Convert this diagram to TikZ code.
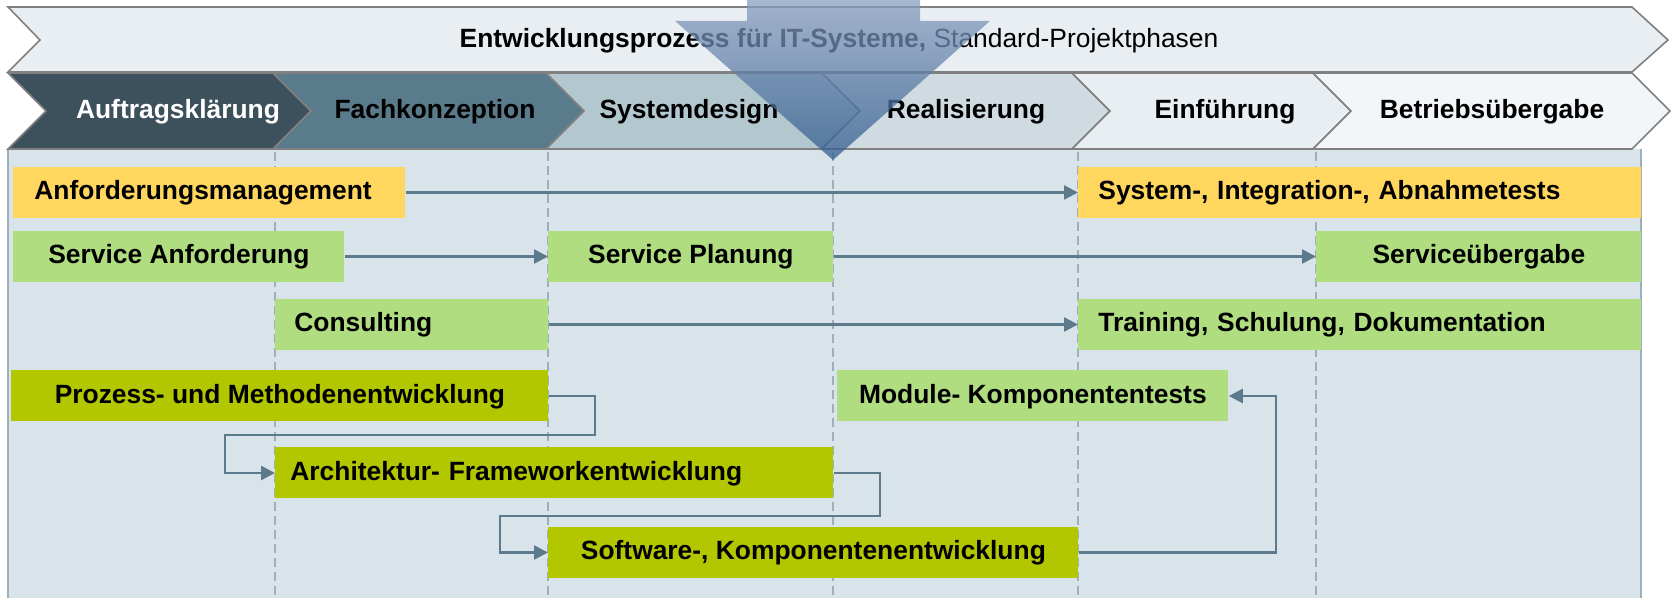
\documentclass[tikz,border=0pt]{standalone}
\usepackage{fontspec}
\setmainfont{Liberation Sans}
\usetikzlibrary{arrows.meta}
\definecolor{kopf}{HTML}{E9EEF2}
\definecolor{phaseA}{HTML}{3D515D}
\definecolor{phaseB}{HTML}{5A7B8B}
\definecolor{phaseC}{HTML}{B3C7CF}
\definecolor{phaseD}{HTML}{CFDBE1}
\definecolor{phaseE}{HTML}{E8EEF2}
\definecolor{phaseF}{HTML}{F3F6F9}
\definecolor{flaeche}{HTML}{D8E3EA}
\definecolor{gelb}{HTML}{FFD75F}
\definecolor{hellgruen}{HTML}{AFDD80}
\definecolor{oliv}{HTML}{B2C700}
\definecolor{linie}{HTML}{5C7A8C}
\definecolor{strich}{HTML}{9EAFBA}
\definecolor{pfeiloben}{RGB}{136,158,191}
\definecolor{pfeilunten}{RGB}{50,92,142}
\newcommand{\schrift}{\fontsize{13.2}{15.8}\selectfont}
\tikzstyle{pfeilform} = [draw=black!50, line width=0.8pt, line join=miter]
\tikzstyle{phase} = [font=\schrift\bfseries, inner sep=0pt, text height=0.716em, text depth=0pt]
\tikzstyle{box} = [font=\schrift\bfseries, inner sep=0pt, minimum height=25.5pt, text height=0.716em, text depth=0pt, anchor=west]
\tikzstyle{links} = [box, align=left]
\tikzstyle{mitte} = [box, align=center]
\tikzstyle{verb} = [draw=linie, line width=1.2pt, -{Triangle[length=7pt,width=7pt]}]
\tikzstyle{trenner} = [draw=strich, line width=0.8pt, dash pattern=on 4.5pt off 2.5pt]

\begin{document}
\begin{tikzpicture}[x=0.5pt,y=-0.5pt]
    \useasboundingbox (0,0) rectangle (1671,598);

    % Hintergrund und Spalten
    \fill [flaeche] (8,149) rectangle (1641,598);
    \draw [strich, line width=1pt] (8,149) -- (8,598);
    \draw [strich, line width=1pt] (1641,149) -- (1641,598);
    \foreach \x in {275,548,833,1078,1316}
        \draw [trenner] (\x,152) -- (\x,598);

    % Kopfzeile
    \draw [pfeilform, fill=kopf] (8,7) -- (40,40) -- (8,72) -- (1632,72) -- (1668,40) -- (1632,7) -- cycle;
    \node (kopf) [font=\schrift, text height=0.716em, text depth=0pt] at (839,40) {\textbf{Entwicklungsprozess für IT-Systeme,} Standard-Projektphasen};

    % Phasen
    \foreach \l/\r/\f in {8/273/phaseA, 273/546/phaseB, 546/822/phaseC, 822/1072/phaseD, 1072/1313/phaseE, 1313/1632/phaseF}
        \draw [pfeilform, fill=\f] (\l,73) -- (\l+38,111) -- (\l,149) -- (\r,149) -- (\r+38,111) -- (\r,73) -- cycle;

    \node (p1) [phase, text=white] at (178,111) {Auftragsklärung};
    \node (p2) [phase] at (435,111) {Fachkonzeption};
    \node (p3) [phase] at (689,111) {Systemdesign};
    \node (p4) [phase] at (966,111) {Realisierung};
    \node (p5) [phase] at (1225,111) {Einführung};
    \node (p6) [phase] at (1492,111) {Betriebsübergabe};

    % Aufgaben
    \node (anf) [links, fill=gelb, inner xsep=10.5pt, text width=175pt] at (13,192.5) {Anforderungsmanagement};
    \node (sit) [links, fill=gelb, inner xsep=10pt, text width=261.5pt] at (1078,192.5) {System-, Integration-, Abnahmetests};

    \node (sanf) [mitte, fill=hellgruen, minimum width=165.5pt] at (13,256.5) {Service Anforderung};
    \node (splan) [mitte, fill=hellgruen, minimum width=142.5pt] at (548,256.5) {Service Planung};
    \node (sueb) [mitte, fill=hellgruen, minimum width=162.5pt] at (1316,256.5) {Serviceübergabe};

    \node (cons) [links, fill=hellgruen, inner xsep=9.5pt, text width=117.5pt] at (275,324.5) {Consulting};
    \node (train) [links, fill=hellgruen, inner xsep=10pt, text width=261.5pt] at (1078,324.5) {Training, Schulung, Dokumentation};

    \node (proz) [mitte, fill=oliv, minimum width=268.5pt] at (11,396) {Prozess- und Methodenentwicklung};
    \node (modul) [mitte, fill=hellgruen, minimum width=195.5pt] at (837,396) {Module- Komponententests};

    \node (arch) [links, fill=oliv, inner xsep=7.5pt, text width=264pt] at (275,473) {Architektur- Frameworkentwicklung};

    \node (soft) [mitte, fill=oliv, minimum width=265pt] at (548,552.5) {Software-, Komponentenentwicklung};

    % Verbindungen
    \draw [verb] (anf.east) -- (sit.west);
    \draw [verb] (sanf.east) -- (splan.west);
    \draw [verb] (splan.east) -- (sueb.west);
    \draw [verb] (cons.east) -- (train.west);
    \draw [verb] (proz.east) -| (595,435) -| (225,473) -- (arch.west);
    \draw [verb] (arch.east) -| (880,516) -| (500,552.5) -- (soft.west);
    \draw [verb] (soft.east) -| (1276,396) -- (modul.east);

    % grosser Pfeil
    \shade [top color=pfeiloben, bottom color=pfeilunten, opacity=0.75]
        (747,0) -- (920,0) -- (920,21) -- (990,21) -- (833,160) -- (675,21) -- (747,21) -- cycle;

\end{tikzpicture}
\end{document}
